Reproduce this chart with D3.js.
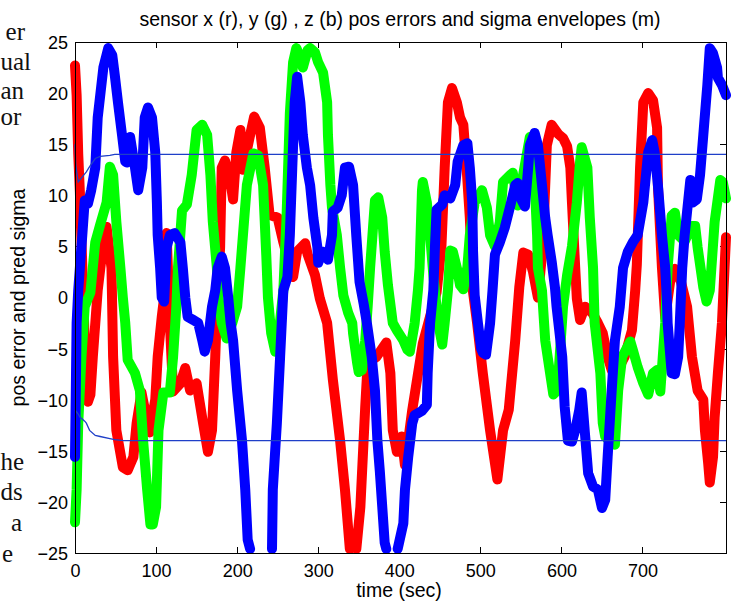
<!DOCTYPE html>
<html>
<head>
<meta charset="utf-8">
<script src="https://cdn.jsdelivr.net/npm/d3@7"></script>
<style>
  html, body { margin: 0; padding: 0; background: #fff; }
  svg { display: block; }
</style>
</head>
<body>
<svg id="chart" width="733" height="606"></svg>
<script>
// ---- data: sensor position errors (m) vs time (s) ----
const redTime = [0,2,4,6,10,13,16,19,22,28,35,39,45,47,51,59,65,72,76,82,88,92,99,102,107,111,113,117,121,130,136,142,150,158,164,169,173,176,179,181,185,191,195,199,204,207,216,221,228,234,240,250,257,265,269,274,284,287,296,302,311,318,327,333,339,343,347,352,358,361,372,384,389,392,397,403,407,416,429,446,452,456,460,465,471,475,479,483,487,491,496,503,512,521,528,535,543,548,553,559,565,571,577,582,588,596,602,607,611,613,617,619,623,629,638,645,651,657,662,670,678,687,691,693,697,701,707,713,718,719,722,724,728,734,740,746,755,761,768,775,777,781,783,787,789,793,798,803];
const redErr  = [22.7,19.8,14,10.3,0.7,-7,-10.2,-9.5,-5.8,0.7,5.4,6.9,2.9,-5.8,-13,-16.6,-16.9,-15.6,-12.3,-9.3,-11.7,-13.2,-10,-5.8,-1.9,0.7,6.3,-2.5,-9.2,-8.4,-6.9,-9.1,-8.4,-12.3,-15.1,-13,-5.8,0.7,4.9,12.7,13.4,11.7,9.6,14.2,16.4,12.5,15.9,17.7,16.6,12.7,8.1,7.8,5.4,3,2,4.5,5.3,4.2,2.2,-0.1,-2.5,-8,-14,-18.8,-24.6,null,-24.6,-20.5,-10.7,-6.4,-5.8,-4.4,-7.4,-13,-15.1,-13.6,-16.4,-11,-4.5,0.5,5,12.7,19.1,20.5,19.1,17.6,16.9,12.7,7.8,0.5,-2.5,-7.4,-13,-17.8,-13,-11,-4.2,1,4.4,4.2,2.5,0,5,14.9,16.9,16,15.6,14.8,12.7,9.3,2.9,-0.1,-2.2,-0.9,-1.5,-2.5,-3.5,-5.8,-7.1,-7,-5.8,-3.2,0.7,3.2,12.7,19.1,20,19.3,16.6,11,6.1,2.9,-2,1.5,2.8,2,-0.9,-5.8,-9.1,-10,-13,-16.2,-18.1,-15.6,-11.7,-7.4,-2.5,5.9];

const greenTime = [0,2,4,8,12,19,25,31,39,43,47,51,56,59,62,65,74,80,84,89,93,96,100,103,109,117,121,125,127,132,138,144,150,157,163,167,170,175,177,181,187,194,200,204,212,220,226,232,236,238,242,247,252,257,261,265,269,273,278,281,287,290,296,300,306,311,312,315,317,323,327,331,337,342,343,348,350,354,358,361,364,370,374,379,382,386,392,397,405,410,413,419,423,425,428,429,434,438,442,448,453,456,460,463,466,471,475,479,484,487,493,502,508,512,518,524,528,537,540,546,555,561,567,570,571,576,580,586,590,595,602,607,613,619,623,625,632,635,639,641,648,651,654,660,666,670,675,685,688,694,701,707,713,718,722,725,728,731,736,740,744,752,761,765,768,775,779,783,789,796,799,803];
const greenErr  = [-22,-18.8,-12.3,-5.8,-0.9,0.5,5.4,7.1,9.3,12.8,12,7.4,2.9,0,-2.5,-6.1,-7.4,-9.1,-14,-18.8,-22.2,-22.2,-20.5,-13,-9.3,-9.3,-5.8,-0.9,2.9,8.5,9.1,12,16.4,16.9,15.9,12,7.4,2.9,0,-2.5,-4,-2.5,-0.9,2.9,11,14.1,13.9,11,4,0,-3.5,-5.3,-3,0.7,8,18,23,24.4,23.5,22.5,24.2,24.4,24,23,22,19.1,15.9,11,8.8,6.1,2.9,0.2,-1.5,-2.5,-3.5,-6.4,-7.3,-7.1,-4.2,-0.9,2.9,9.5,9.8,7.8,4.5,1.2,-2.5,-3.2,-4.2,-5.1,-5.3,-2.5,0.7,2.9,10.5,11.3,9.3,6.1,2.2,-2.5,-4.6,-2.5,0.7,4.6,4.5,2.9,1.2,0.8,3,6.1,9.3,10.5,8.8,6.1,5,7.4,11.3,12,12.2,9,13,15.7,11.3,6.1,2.9,0.7,-4.2,-7.4,-9.5,-9.1,-0.9,2.2,5,9.3,13.3,14.7,12.7,7.8,2.9,-2.5,-7.4,-12.3,-13.6,-14.1,-14.4,-9.1,-5.8,-4.3,-5.1,-6.8,-8.4,-9.5,-7.4,-7.1,-9.2,-5.8,-2.5,2.9,8,8.3,6.1,5.5,7,7,4.9,1,-0.4,0.7,7.4,11.5,11.3,9.7];

const blueTime = [0,1,2,4,6,9,12,16,20,25,28,35,41,46,49,53,58,62,64,68,74,78,83,86,90,95,99,101,102,105,107,110,113,117,123,130,133,136,139,146,152,157,160,164,169,173,176,181,185,189,192,195,200,206,210,213,216,229,243,244,249,253,257,262,265,268,271,274,278,281,286,290,294,299,300,305,311,312,317,318,324,329,333,338,343,347,351,356,360,366,370,373,376,379,382,384,391,398,405,407,411,416,419,428,434,435,438,442,444,446,453,456,463,469,472,479,484,487,490,491,493,497,501,503,507,512,515,518,524,530,537,543,546,551,555,559,561,567,571,576,580,583,588,592,594,601,604,608,613,617,622,625,629,633,639,645,650,654,657,662,666,672,676,682,688,694,701,707,712,715,719,724,728,730,731,736,740,744,746,749,752,759,762,767,771,775,780,783,787,792,793,798,803];
const blueErr  = [-15.6,-9.1,-2.5,0.7,2.9,6.1,9.5,9.2,10.5,12.7,17.6,22.5,24.4,23.7,21.8,19.1,15.9,13.3,13.2,15.7,12.7,10.5,12.7,17.6,18.6,17.6,14.2,9.3,6.1,2.9,0,-0.4,4.9,6.1,6.3,5.4,2.9,0,-1.9,-2.2,-2.5,-4.2,-5.3,-4.2,-0.9,0.7,2.9,4,2.9,0,-2.5,-4.2,-9.1,-14,-18.8,-23.7,-24.6,null,-24.6,-18.8,-12.3,-5.8,0.7,2,6.1,12.7,19.1,21.6,19.1,15.9,12.7,11,7.8,4.9,3.4,4.5,4.2,3.7,6.1,8.4,8.8,10,12.7,12.8,11,6,1.5,-0.6,-2.5,-5.8,-9.1,-14,-17,-20.5,-24,-24.6,null,-24.6,-22.1,-18.8,-15.6,-12.3,-11.5,-11.1,-10.5,-7.4,-2.5,0.7,5,8.6,9.1,10,9.7,11,13.3,14.9,15.1,12.7,9.3,4.5,0.2,-2.5,-5,-5.4,-5.6,-2.5,0.7,4.2,5.4,6.8,9,11,11.2,9.5,8.9,12.7,14.9,16.1,14.9,11,7.8,6.1,3.5,1,-0.9,-5.8,-10.7,-14,-14.1,-13,-11,-9.3,-13.3,-17.2,-18.5,-18.8,-20.6,-19.8,-15.6,-9.1,-4.2,-0.9,2.9,4.5,5.4,6.1,9.3,14.2,15.4,14.2,11,6.1,2.9,0,-2.5,-7.4,-7.5,-5.8,-2.5,2.9,6.1,11.5,9.3,9.6,12,15.9,20.8,24.4,23.9,22.5,21.5,20.8,19.8];

// predicted 1-sigma envelope (m)
const sigmaTime  = [0,1,4,6,12,14,18,25,31,43,49,60,803];
const sigmaUpper = [15.0,12.9,11.3,11.5,12.1,12.3,12.8,13.6,13.8,13.9,14.0,14.0,14.0];
const sigmaLower = [-11.0,-11.1,-11.4,-11.7,-12.1,-12.3,-13.0,-13.5,-13.6,-13.8,-13.9,-14.0,-14.0];

const xTicks = [0,100,200,300,400,500,600,700];
const yTicks = [-25,-20,-15,-10,-5,0,5,10,15,20,25];

const titleText = "sensor x (r), y (g) , z (b) pos errors and sigma envelopes (m)";
const xLabelText = "time (sec)";
const yLabelText = "pos error and pred sigma";

// line-ends of the surrounding document page, beside the figure
const pageTextTop = ["er", "ual", "an", "or"];
const pageTextBottom = ["he", "ds", "a", "e"];

// ---- layout ----
const svg = d3.select("#chart");
const sansFont = "'Liberation Sans', Arial, Helvetica, sans-serif";
const serifFont = "'Liberation Serif', 'Times New Roman', serif";

const x = d3.scaleLinear().domain([0, 803]).range([75, 726]);
const y = d3.scaleLinear().domain([-25, 25]).range([553, 42]);

svg.append("rect").attr("width", 733).attr("height", 606).attr("fill", "#fff");

// page text: right-aligned line ends, nudged right if they would run off the left edge
function pageLines(words, rightX, baseY) {
  svg.append("g").selectAll("text").data(words).join("text")
    .attr("x", (d, i) => rightX[i]).attr("y", (d, i) => baseY[i])
    .attr("text-anchor", "end")
    .attr("font-family", serifFont).attr("font-size", 25).attr("fill", "#111")
    .text(d => d)
    .each(function (d, i) {
      const w = this.getComputedTextLength();
      if (rightX[i] - w < 0.5) d3.select(this).attr("x", w + 0.5);
    });
}
pageLines(pageTextTop, [25, 22, 18.5, 15], [40, 70, 99, 125]);
pageLines(pageTextBottom, [16.5, 13.5, 22, 13], [470, 500, 531, 562]);

// axes (ticks point inward, box all round)
const tickLen = 6;
const gx = svg.append("g").attr("transform", "translate(0,553)")
  .call(d3.axisBottom(x).tickValues(xTicks).tickSizeInner(-tickLen).tickSizeOuter(0).tickPadding(11).tickFormat(d3.format("d")));
const gxTop = svg.append("g").attr("transform", "translate(0,42)")
  .call(d3.axisTop(x).tickValues(xTicks).tickSizeInner(-tickLen).tickSizeOuter(0).tickFormat(""));
const gy = svg.append("g").attr("transform", "translate(75,0)")
  .call(d3.axisLeft(y).tickValues(yTicks).tickSizeInner(-tickLen).tickSizeOuter(0).tickPadding(7).tickFormat(d3.format("d")));
const gyRight = svg.append("g").attr("transform", "translate(726,0)")
  .call(d3.axisRight(y).tickValues(yTicks).tickSizeInner(-tickLen).tickSizeOuter(0).tickFormat(""));

[gx, gxTop, gy, gyRight].forEach(g => {
  g.select(".domain").remove();
  g.selectAll(".tick line").attr("stroke", "#000").attr("shape-rendering", "crispEdges");
  g.selectAll(".tick text").attr("fill", "#000")
    .attr("font-family", sansFont).attr("font-size", 18);
});
gy.selectAll(".tick text").attr("dy", "0.36em");

// data curves (values beyond the axis limits are left undrawn)
const line = d3.line()
  .defined(d => d[1] !== null)
  .x(d => x(d[0]))
  .y(d => y(d[1]));

const series = [
  { t: redTime, v: redErr, color: "#ff0000" },
  { t: greenTime, v: greenErr, color: "#00ff00" },
  { t: blueTime, v: blueErr, color: "#0000ff" }
];

svg.append("g").selectAll("path").data(series).join("path")
  .attr("d", s => line(s.t.map((t, i) => [t, s.v[i]])))
  .attr("fill", "none")
  .attr("stroke", s => s.color)
  .attr("stroke-width", 10)
  .attr("stroke-linecap", "round")
  .attr("stroke-linejoin", "round");

// sigma envelopes
const env = svg.append("g");
[sigmaUpper, sigmaLower].forEach(vals => {
  env.append("path")
    .attr("d", line(sigmaTime.map((t, i) => [t, vals[i]])))
    .attr("fill", "none")
    .attr("stroke", "#1f3fc8")
    .attr("stroke-width", 1.3);
});

// axes box
svg.append("rect")
  .attr("x", 75).attr("y", 42)
  .attr("width", 651).attr("height", 511)
  .attr("fill", "none").attr("stroke", "#000").attr("stroke-width", 1)
  .attr("shape-rendering", "crispEdges");

// titles
svg.append("text")
  .attr("x", 400).attr("y", 26)
  .attr("text-anchor", "middle")
  .attr("font-family", sansFont).attr("font-size", 19.5).attr("fill", "#000")
  .text(titleText);

svg.append("text")
  .attr("x", 399).attr("y", 597)
  .attr("text-anchor", "middle")
  .attr("font-family", sansFont).attr("font-size", 19.5).attr("fill", "#000")
  .text(xLabelText);

svg.append("text")
  .attr("transform", "translate(25,297.5) rotate(-90)")
  .attr("text-anchor", "middle")
  .attr("font-family", sansFont).attr("font-size", 19.5).attr("fill", "#000")
  .text(yLabelText);
</script>
</body>
</html>
